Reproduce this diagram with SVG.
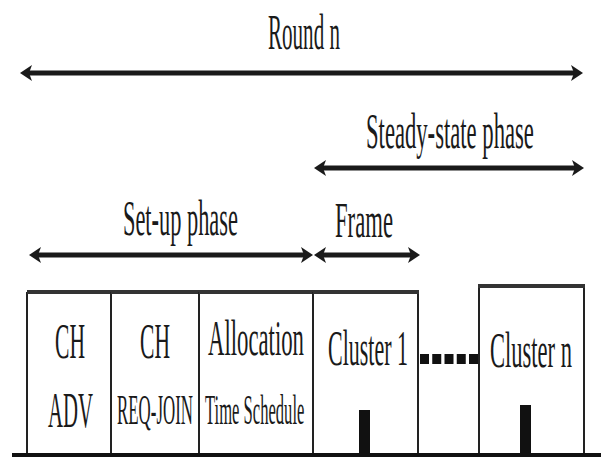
<svg xmlns="http://www.w3.org/2000/svg" width="601" height="459" viewBox="0 0 601 459">
  <style>
    .t { font-family: "Liberation Serif", "Times New Roman", serif; fill: #1a1a1a; text-anchor: start; }
    .big { font-size: 50px; }
    .small { font-size: 42px; }
    .arrow { stroke: #1a1a1a; stroke-width: 5; fill: none; marker-start: url(#ah); marker-end: url(#ah); }
    .side { stroke: #222; stroke-width: 2; fill: none; }
    .top { stroke: #333; stroke-width: 4; fill: none; }
    .bar { fill: #111; }
  </style>
  <defs>
    <marker id="ah" viewBox="0 0 12 16" refX="5" refY="8" markerWidth="12" markerHeight="16" orient="auto-start-reverse" markerUnits="userSpaceOnUse">
      <path d="M0,0 L12,8 L0,16 L3,8 Z" fill="#1a1a1a"/>
    </marker>
  </defs>
  <rect width="601" height="459" fill="#fff"/>

  <g id="connectors">
    <line class="arrow" x1="27" y1="73" x2="576" y2="73"/>
    <line class="arrow" x1="321" y1="168" x2="577" y2="168"/>
    <line class="arrow" x1="36" y1="255" x2="306" y2="255"/>
    <line class="arrow" x1="321" y1="255" x2="413" y2="255"/>
  </g>

  <g id="labels">
    <text class="t big" transform="translate(268,49) scale(0.4215,1)">Round n</text>
    <text class="t big" transform="translate(366,148) scale(0.453,1)">Steady-state phase</text>
    <text class="t big" transform="translate(123,235) scale(0.4476,1)">Set-up phase</text>
    <text class="t big" transform="translate(335,237) scale(0.454,1)">Frame</text>
  </g>

  <g id="node-ch-adv">
    <line class="side" x1="27" y1="292" x2="27" y2="455"/>
    <line class="top" x1="27" y1="292" x2="111" y2="292"/>
    <text class="t big" transform="translate(55,358) scale(0.432,1)">CH</text>
    <text class="t big" transform="translate(48,427) scale(0.4155,1)">ADV</text>
  </g>

  <g id="node-ch-req-join">
    <line class="side" x1="111" y1="292" x2="111" y2="455"/>
    <line class="top" x1="111" y1="292" x2="199" y2="292"/>
    <text class="t big" transform="translate(140,358) scale(0.432,1)">CH</text>
    <text class="t small" transform="translate(117,424) scale(0.402,1)">REQ-JOIN</text>
  </g>

  <g id="node-allocation">
    <line class="side" x1="199" y1="292" x2="199" y2="455"/>
    <line class="top" x1="199" y1="292" x2="313" y2="292"/>
    <text class="t big" transform="translate(208,355) scale(0.455,1)">Allocation</text>
    <text class="t small" transform="translate(205,424) scale(0.395,1)">Time Schedule</text>
  </g>

  <g id="node-cluster-1">
    <path class="side" d="M313,292 V455 M418,292 V455"/>
    <line class="top" x1="313" y1="292" x2="419" y2="292"/>
    <text class="t big" transform="translate(328,365) scale(0.44,1)">Cluster 1</text>
    <rect class="bar" x="359" y="410" width="11" height="45"/>
  </g>

  <g id="node-dots">
    <line x1="420" y1="359" x2="478" y2="359" stroke="#111" stroke-width="10" stroke-dasharray="9 3.25"/>
  </g>

  <g id="node-cluster-n">
    <path class="side" d="M479,286 V455 M584,286 V455"/>
    <line class="top" x1="478" y1="286" x2="585" y2="286"/>
    <text class="t big" transform="translate(490,367) scale(0.4505,1)">Cluster n</text>
    <rect class="bar" x="520" y="405" width="11" height="50"/>
  </g>

  <g id="baseline">
    <line x1="12" y1="455" x2="601" y2="455" stroke="#111" stroke-width="4"/>
  </g>
</svg>
